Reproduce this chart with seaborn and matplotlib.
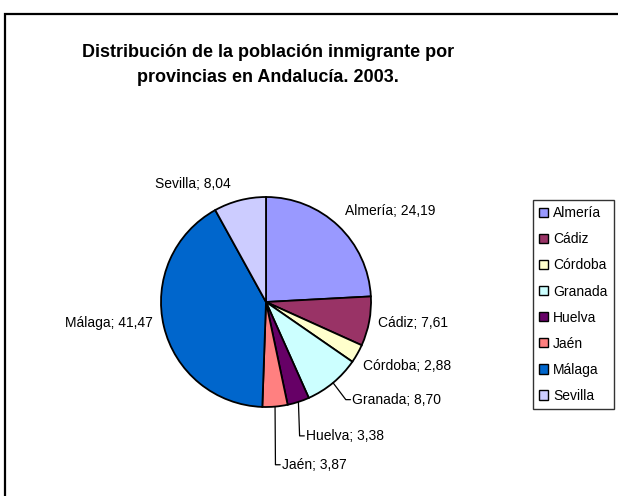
import matplotlib
matplotlib.use("Agg")
import matplotlib.pyplot as plt
import numpy as np
import seaborn as sns
from matplotlib.patches import Patch, Rectangle

# data
provincias = ["Almería", "Cádiz", "Córdoba", "Granada", "Huelva", "Jaén", "Málaga", "Sevilla"]
porcentajes = [24.19, 7.61, 2.88, 8.70, 3.38, 3.87, 41.47, 8.04]
colores = ["#9999FF", "#993366", "#FFFFCC", "#CCFFFF", "#660066", "#FF8080", "#0066CC", "#CCCCFF"]
titulo = "Distribución de la población inmigrante por\nprovincias en Andalucía. 2003."

# label layout (in pie radius units): anchor x, y, alignment, leader line
label_pos = [(0.75, 0.87, "left"), (1.07, -0.20, "left"), (0.92, -0.61, "left"),
             (0.82, -0.93, "left"), (0.38, -1.275, "left"), (0.15, -1.55, "left"),
             (-1.075, -0.20, "right"), (-0.34, 1.12, "right")]
leaders = [False, False, False, True, True, True, False, False]

sns.set_theme(style="white")
plt.rcParams["font.family"] = ["Liberation Sans", "DejaVu Sans"]
plt.rcParams["text.color"] = "black"

W, H = 618, 496
fig = plt.figure(figsize=(W / 100, H / 100), dpi=100)
fig.patch.set_facecolor("white")

# pie axes: centre at (266, 302) px, radius 105 px
cx, cy, r = 266, 302, 105
ax = fig.add_axes([(cx - r) / W, (H - cy - r) / H, 2 * r / W, 2 * r / H])
palette = sns.color_palette(colores)
wedges, _ = ax.pie(porcentajes, colors=palette, startangle=90, counterclock=False,
                   radius=1, wedgeprops=dict(edgecolor="black", linewidth=1.3))
ax.set_xlim(-1, 1)
ax.set_ylim(-1, 1)
ax.set_aspect("equal")
ax.axis("off")

for w, name, val, (lx, ly, ha), lead in zip(wedges, provincias, porcentajes, label_pos, leaders):
    txt = f"{name}; {val:.2f}".replace(".", ",")
    ax.text(lx, ly, txt, ha=ha, va="center", fontsize=10, color="black", clip_on=False)
    if lead:
        ang = np.deg2rad((w.theta1 + w.theta2) / 2)
        x0, y0 = np.cos(ang), np.sin(ang)
        ax.plot([x0, lx - 0.06, lx - 0.015], [y0, ly, ly], color="black", lw=0.9,
                clip_on=False)

fig.text(268 / W, 1 - 65 / H, titulo, ha="center", va="center", fontsize=13,
         fontweight="bold", linespacing=1.65, color="black")

handles = [Patch(facecolor=c, edgecolor="black", linewidth=1.0) for c in palette]
leg = fig.legend(handles, provincias, loc="upper left", bbox_to_anchor=(533 / W, 1 - 200 / H),
                 fontsize=10, frameon=True, fancybox=False, borderaxespad=0,
                 handlelength=0.65, handleheight=0.65, handletextpad=0.35,
                 labelspacing=0.87, borderpad=0.45, labelcolor="black")
leg.get_frame().set_edgecolor("black")
leg.get_frame().set_linewidth(1.0)

# outer chart frame (only top and left visible in the reference)
fig.patches.append(Rectangle((5 / W, -0.1), 1.2, (H - 14) / H + 0.1, transform=fig.transFigure,
                             fill=False, edgecolor="black", linewidth=1.6))

fig.savefig("out.png", dpi=100)
